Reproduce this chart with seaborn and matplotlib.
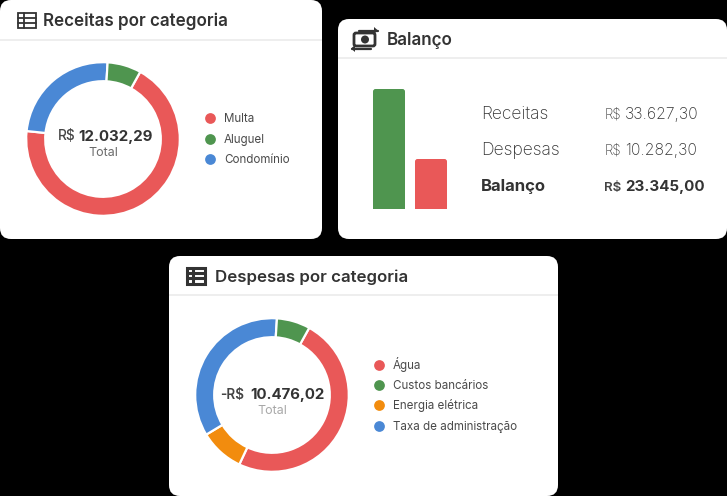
import matplotlib
matplotlib.use("Agg")
import matplotlib.pyplot as plt
import pandas as pd
import seaborn as sns
from matplotlib.patches import Circle, FancyBboxPatch, Polygon, Rectangle

W, H = 727, 496

# dados
receitas_values = [8254, 2924, 854]
receitas_colors = ["#E95858", "#4A88D5", "#4F954F"]
receitas_legend = ["Multa", "Aluguel", "Condomínio"]
receitas_legend_colors = ["#E95858", "#4F954F", "#4A88D5"]

despesas_values = [5128, 981, 3631, 736]
despesas_colors = ["#E95858", "#F28C0E", "#4A88D5", "#4F954F"]
despesas_legend = ["Água", "Custos bancários", "Energia elétrica", "Taxa de administração"]
despesas_legend_colors = ["#E95858", "#4F954F", "#F28C0E", "#4A88D5"]

balanco_names = ["Receitas", "Despesas"]
balanco_bars = [33627.30, 14010]
balanco_colors = ["#4F954F", "#E95858"]
balanco_rows = ["Receitas", "Despesas", "Balanço"]
balanco_text = ["33.627,30", "10.282,30", "23.345,00"]

sns.set_theme(style="white")
plt.rcParams["font.family"] = ["Inter", "DejaVu Sans"]

DARK = "#333333"
fig = plt.figure(figsize=(W / 100, H / 100), dpi=100, facecolor="black")

bg = fig.add_axes([0, 0, 1, 1])
bg.set_xlim(0, W)
bg.set_ylim(H, 0)
bg.axis("off")


def px_axes(x0, y0, x1, y1):
    # eixo posicionado em pixels da imagem
    ax = fig.add_axes([x0 / W, 1 - y1 / H, (x1 - x0) / W, (y1 - y0) / H])
    ax.patch.set_alpha(0)
    return ax


def card(x0, y0, x1, y1, line_y):
    r = 11
    bg.add_patch(FancyBboxPatch((x0 + r, y0 + r), x1 - x0 - 2 * r, y1 - y0 - 2 * r,
                                boxstyle=f"round,pad={r},rounding_size={r}",
                                fc="white", ec="none"))
    bg.plot([x0, x1], [line_y, line_y], color="#EDEDED", lw=1.3, solid_capstyle="butt")


def donut(cx, cy, values, colors):
    ax = px_axes(cx - 78, cy - 78, cx + 78, cy + 78)
    ax.pie(values, colors=colors, startangle=61, counterclock=False, radius=76.8 / 78,
           wedgeprops=dict(width=19 / 78, edgecolor="white", linewidth=1.6))
    ax.set_xlim(-1, 1)
    ax.set_ylim(-1, 1)


def legend(x, ys, labels, colors):
    for y, label, color in zip(ys, labels, colors):
        bg.scatter([x], [y], s=60, color=color, linewidths=0, zorder=3)
        bg.text(x + 14, y + 3.8, label, fontsize=8.35, color="#4A4A4A", va="baseline", ha="left")


def table_icon(x0, y0, x1, y1, lw):
    bg.add_patch(Rectangle((x0, y0), x1 - x0, y1 - y0, fc="none", ec=DARK, lw=lw))
    h = (y1 - y0) / 3
    for i in (1, 2):
        bg.plot([x0, x1], [y0 + i * h] * 2, color=DARK, lw=lw)
    mid = x0 + (x1 - x0) * 0.36
    bg.plot([mid, mid], [y0, y1], color=DARK, lw=lw)


card(0, 0, 322, 239, 39.5)
card(338, 19, 727, 239, 58)
card(169, 256, 558, 496, 295)

# receitas
table_icon(18, 12.5, 36, 27.5, 1.3)
bg.text(43, 26, "Receitas por categoria", fontsize=12.25, fontweight="semibold", color=DARK, va="baseline")
donut(103, 139, receitas_values, receitas_colors)
bg.text(76, 140.5, "R$", fontsize=9.8, fontweight="medium", color="#444444", ha="right", va="baseline")
bg.text(78, 140.5, "12.032,29", fontsize=10.8, fontweight="bold", color=DARK, ha="left", va="baseline")
bg.text(103, 156, "Total", fontsize=9, color="#6A6A6A", ha="center", va="baseline")
legend(210, [118, 139, 159], receitas_legend, receitas_legend_colors)

# balanço
bg.add_patch(FancyBboxPatch((354, 33), 21, 13, boxstyle="round,pad=0,rounding_size=2", fc="none", ec=DARK, lw=2))
bg.add_patch(Circle((365, 39.5), 4, fc=DARK, ec="none"))
bg.plot([359, 378], [30.5, 30.5], color=DARK, lw=1.6)
bg.add_patch(Polygon([[378, 30.5], [374, 27], [374, 34]], fc=DARK, ec="none"))
bg.plot([352, 371], [48.5, 48.5], color=DARK, lw=1.6)
bg.add_patch(Polygon([[351, 48.5], [355, 45], [355, 52]], fc=DARK, ec="none"))
bg.text(387, 45, "Balanço", fontsize=12.25, fontweight="semibold", color=DARK, va="baseline")

bars = px_axes(368, 89, 452, 209)
sns.barplot(data=pd.DataFrame({"nome": balanco_names, "valor": balanco_bars}),
            x="nome", y="valor", hue="nome", palette=balanco_colors, legend=False,
            width=0.762, saturation=1, ax=bars)
bars.set_xlim(-0.5, 1.5)
bars.set_ylim(0, max(balanco_bars))
bars.axis("off")
# topo arredondado: troca cada barra por uma caixa com a mesma geometria
for bar in list(bars.patches):
    bars.add_patch(FancyBboxPatch((bar.get_x(), 0), bar.get_width(), bar.get_height(),
                                  boxstyle="round,pad=0,rounding_size=0.06", mutation_aspect=12000,
                                  fc=bar.get_facecolor(), ec="none"))
    bars.add_patch(Rectangle((bar.get_x(), 0), bar.get_width(), bar.get_height() * 0.5,
                             fc=bar.get_facecolor(), ec="none"))
    bar.set_visible(False)

for y, row, val in zip([119, 155, 191], balanco_rows, balanco_text):
    bold = row == "Balanço"
    weight = "bold" if bold else "light"
    bg.text(481, y, row, fontsize=12 if bold else 12.6, fontweight=weight, color=DARK, va="baseline")
    bg.text(621.5, y, "R$", fontsize=9.6, fontweight="semibold" if bold else "light",
            color="#444444", ha="right", va="baseline")
    bg.text(625, y, val, fontsize=10.9 if bold else 11.3, fontweight=weight, color=DARK, va="baseline")

# despesas
table_icon(187, 268, 205, 283.5, 2.2)
bg.text(215, 282, "Despesas por categoria", fontsize=12.15, fontweight="semibold", color=DARK, va="baseline")
donut(272, 395, despesas_values, despesas_colors)
bg.text(244.5, 398.5, "-R$", fontsize=9.8, fontweight="semibold", color="#444444", ha="right", va="baseline")
bg.text(250, 398.5, "10.476,02", fontsize=10.8, fontweight="bold", color=DARK, ha="left", va="baseline")
bg.text(272, 414, "Total", fontsize=9, color="#A8A8A8", ha="center", va="baseline")
legend(379, [365, 385, 405, 426], despesas_legend, despesas_legend_colors)

fig.savefig("out.png", dpi=100, facecolor="black")
